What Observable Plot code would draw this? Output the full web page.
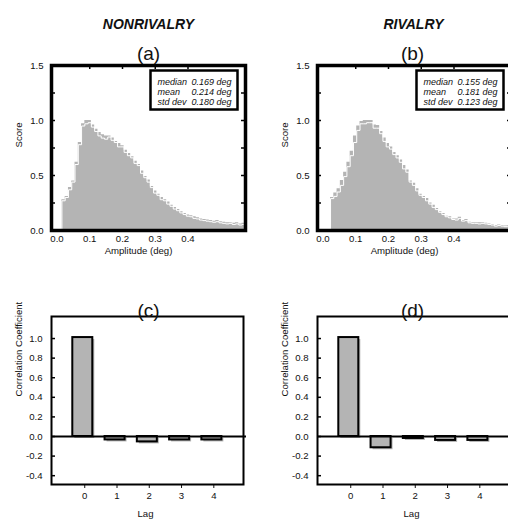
<!DOCTYPE html>
<html><head><meta charset="utf-8">
<script src="https://cdn.jsdelivr.net/npm/d3@7"></script>
<script src="https://cdn.jsdelivr.net/npm/@observablehq/plot@0.6"></script>
<style>
body{margin:0;background:#fff}
#root{width:508px;height:527px;overflow:hidden;background:#fff}
.row{display:flex;width:520px}
.row > svg{flex:none}
</style></head><body><div id="root"><div class="row" id="top"></div><div class="row" id="bottom"></div></div>
<script>
// ---- data ----
const binWidth = 0.01;
const nonrivalryBinStart = 0.015;
const rivalryBinStart = 0.023;
const nonrivalryGray = [0.28,0.31,0.39,0.45,0.62,0.80,0.97,1.0,1.0,0.96,0.92,0.89,0.87,0.86,0.86,0.84,0.81,0.79,0.77,0.73,0.70,0.67,0.63,0.60,0.54,0.49,0.46,0.40,0.36,0.33,0.30,0.28,0.26,0.23,0.21,0.19,0.17,0.155,0.14,0.135,0.125,0.115,0.105,0.10,0.095,0.09,0.085,0.09,0.08,0.075,0.07,0.07,0.065,0.07,0.06,0.065];
const nonrivalryWhite = [0.27,0.30,0.37,0.44,0.60,0.78,0.95,0.97,0.98,0.94,0.90,0.86,0.84,0.83,0.85,0.82,0.80,0.76,0.76,0.71,0.68,0.66,0.61,0.59,0.52,0.48,0.44,0.39,0.34,0.32,0.28,0.27,0.24,0.22,0.195,0.18,0.16,0.145,0.13,0.125,0.11,0.105,0.095,0.09,0.085,0.08,0.075,0.08,0.07,0.065,0.06,0.065,0.055,0.06,0.05,0.055];
const rivalryGray = [0.30,0.34,0.38,0.455,0.53,0.62,0.72,0.86,0.95,0.99,1.0,1.0,1.0,0.96,0.955,0.90,0.84,0.79,0.76,0.71,0.68,0.64,0.59,0.55,0.45,0.43,0.38,0.33,0.31,0.29,0.25,0.23,0.20,0.17,0.155,0.13,0.125,0.105,0.105,0.12,0.09,0.10,0.075,0.07,0.07,0.07,0.07,0.065,0.06,0.055,0.045,0.05,0.045,0.04,0.045];
const rivalryWhite = [0.29,0.31,0.35,0.41,0.49,0.58,0.68,0.80,0.91,0.97,0.97,0.98,0.98,0.93,0.93,0.88,0.81,0.76,0.74,0.69,0.66,0.62,0.56,0.53,0.44,0.41,0.36,0.32,0.30,0.27,0.24,0.21,0.19,0.165,0.145,0.125,0.115,0.10,0.095,0.11,0.085,0.09,0.07,0.065,0.065,0.06,0.065,0.06,0.055,0.05,0.04,0.045,0.04,0.035,0.04];
const nonrivalryStats = [["median","0.169 deg"],["mean","0.214 deg"],["std dev","0.180 deg"]];
const rivalryStats = [["median","0.155 deg"],["mean","0.181 deg"],["std dev","0.123 deg"]];
const lags = [0,1,2,3,4];
const nonrivalryCorr = [1.01,-0.035,-0.055,-0.035,-0.035];
const rivalryCorr = [1.01,-0.115,-0.02,-0.04,-0.04];
const ampTicks = [0,0.1,0.2,0.3,0.4];
const scoreTicks = [0,0.5,1.0,1.5];
const scoreMinorTicks = [0.25,0.5,0.75,1.0,1.25];
const corrTicks = [-0.4,-0.2,0,0.2,0.4,0.6,0.8,1.0];
const titles = ["NONRIVALRY","RIVALRY"];
const panelLetters = ["(a)","(b)","(c)","(d)"];

const FONT = '"Liberation Sans", Arial, sans-serif';
const GRAY = "#b4b4b4";
const fmt1 = d => d.toFixed(1);

function histPanel({gray, white, start, title, letter, stats, width, mR, titleDx, letterDx}){
  const n = gray.length;
  const g = gray.map((v,i)=>({x:start+i*binWidth, y:v}));
  g.push({x:start+n*binWidth, y:gray[n-1]});
  const w = [{x:start, y:0}, ...white.map((v,i)=>({x:start+i*binWidth, y:v}))];
  w.push({x:start+n*binWidth, y:white[n-1]});
  const H=270, mL=51, mT=65, mB=40;
  const fw = width-mL-mR, fh = H-mT-mB;
  return Plot.plot({
    width, height:H, marginLeft:mL, marginRight:mR, marginTop:mT, marginBottom:mB,
    style:{fontFamily:FONT, fontSize:"9.6px", color:"#111", background:"#fff"},
    x:{domain:[-0.0168,0.5756], ticks:ampTicks, tickSize:0, tickPadding:5, tickFormat:fmt1, label:null},
    y:{domain:[0,1.5], ticks:scoreTicks, tickSize:0, tickPadding:8, tickFormat:fmt1, label:null},
    marks:[
      Plot.areaY(g,{x:"x", y:"y", curve:"step-after", fill:GRAY}),
      Plot.line(w,{x:"x", y:"y", curve:"step-after", stroke:"#fff", strokeWidth:1}),
      Plot.tickY(scoreMinorTicks,{y:d=>d, insetRight:fw-4, stroke:"#000", strokeWidth:1.5}),
      Plot.tickY(scoreMinorTicks,{y:d=>d, insetLeft:fw-4, stroke:"#000", strokeWidth:1.5}),
      Plot.tickX(ampTicks.slice(1),{x:d=>d, insetBottom:fh-4, stroke:"#000", strokeWidth:1.5}),
      Plot.frame({stroke:"#000", strokeWidth:3.5}),
      Plot.frame({insetLeft:99, insetRight:8, insetTop:5, insetBottom:121, fill:"#fff", stroke:"#000", strokeWidth:2.5}),
      Plot.text([stats.map(d=>d[0]).join("\n")],{text:d=>d, frameAnchor:"top-left", textAnchor:"start", lineAnchor:"top", lineHeight:1.111, dx:106, dy:12.6, fontSize:9, fontStyle:"italic", fill:"#111"}),
      Plot.text([stats.map(d=>d[1]).join("\n")],{text:d=>d, frameAnchor:"top-left", textAnchor:"start", lineAnchor:"top", lineHeight:1.111, dx:140, dy:12.6, fontSize:9, fontStyle:"italic", fill:"#111"}),
      Plot.text([title],{text:d=>d, frameAnchor:"top", dx:titleDx, dy:-46.5, fontSize:14, fontWeight:"bold", fontStyle:"italic", fill:"#111"}),
      Plot.text([letter],{text:d=>d, frameAnchor:"top", dx:letterDx, dy:-19.1, fontSize:19, fill:"#111"}),
      Plot.text(["Amplitude (deg)"],{text:d=>d, frameAnchor:"bottom", dx:-10, dy:23.9, fontSize:9.6, fill:"#111"}),
      Plot.text(["Score"],{text:d=>d, frameAnchor:"left", dx:-33, dy:-0.5, rotate:-90, fontSize:9.6, fill:"#111"})
    ]
  });
}

function corrPanel({vals, letter, width, mR, letterDx}){
  const data = lags.map((l,i)=>({lag:l, r:vals[i]}));
  const H=257, mL=51, mT=46, mB=43;
  const fw = width-mL-mR;
  return Plot.plot({
    width, height:H, marginLeft:mL, marginRight:mR, marginTop:mT, marginBottom:mB,
    style:{fontFamily:FONT, fontSize:"9.6px", color:"#111", background:"#fff"},
    x:{domain:[-1.03,4.92], ticks:lags, tickSize:4, tickPadding:4, tickFormat:d=>String(d), label:null},
    y:{domain:[-0.49,1.225], ticks:corrTicks, tickSize:0, tickPadding:9, tickFormat:fmt1, label:null},
    marks:[
      Plot.rectY(data,{x1:d=>d.lag-0.37, x2:d=>d.lag+0.25, y1:0, y2:"r", fill:GRAY, dx:2, dy:2}),
      Plot.rectY(data,{x1:d=>d.lag-0.37, x2:d=>d.lag+0.25, y1:0, y2:"r", fill:GRAY, stroke:"#000", strokeWidth:2}),
      Plot.ruleY([0],{stroke:"#000", strokeWidth:2, insetRight:-3}),
      Plot.tickY(corrTicks,{y:d=>d, insetRight:fw-4, stroke:"#000", strokeWidth:1.5}),
      Plot.frame({stroke:"#000", strokeWidth:2}),
      Plot.text([letter],{text:d=>d, frameAnchor:"top", dx:letterDx, dy:-13.1, fontSize:19, fill:"#111"}),
      Plot.text(["Lag"],{text:d=>d, frameAnchor:"bottom", dx:-2, dy:32, fontSize:9.6, fill:"#111"}),
      Plot.text(["Correlation Coefficient"],{text:d=>d, frameAnchor:"left", dx:-32.5, dy:-4, rotate:-90, fontSize:9.6, fill:"#111"})
    ]
  });
}

const topRow = document.getElementById("top");
const bottomRow = document.getElementById("bottom");
topRow.appendChild(histPanel({gray:nonrivalryGray, white:nonrivalryWhite, start:nonrivalryBinStart, title:titles[0], letter:panelLetters[0], stats:nonrivalryStats, width:266, mR:21, titleDx:0, letterDx:0}));
topRow.appendChild(histPanel({gray:rivalryGray, white:rivalryWhite, start:rivalryBinStart, title:titles[1], letter:panelLetters[1], stats:rivalryStats, width:254, mR:9, titleDx:-1, letterDx:-2}));
bottomRow.appendChild(corrPanel({vals:nonrivalryCorr, letter:panelLetters[2], width:266, mR:23, letterDx:1}));
bottomRow.appendChild(corrPanel({vals:rivalryCorr, letter:panelLetters[3], width:254, mR:11, letterDx:-1}));
</script></body></html>
